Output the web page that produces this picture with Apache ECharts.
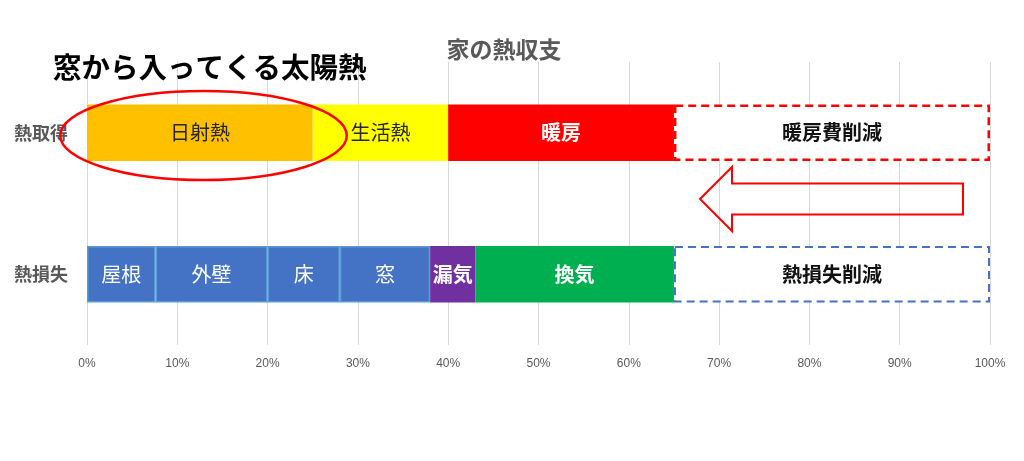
<!DOCTYPE html>
<html>
<head>
<meta charset="utf-8">
<script src="https://cdn.jsdelivr.net/npm/echarts@6/dist/echarts.min.js"></script>
<style>
html,body{margin:0;padding:0;background:#fff;}
#chart{width:1024px;height:461px;}
</style>
</head>
<body>
<div id="chart"></div>
<script>
// ---- data ----
const categories = ['熱取得', '熱損失'];
const gainNames = ['日射熱', '生活熱', '暖房', '暖房費削減'];
const gainValues = [25, 15, 25, 35];
const lossNames = ['屋根', '外壁', '床', '窓', '漏気', '換気', '熱損失削減'];
const lossValues = [7.6, 12.4, 8, 10, 5, 22, 35];
const tickValues = [0, 10, 20, 30, 40, 50, 60, 70, 80, 90, 100];
const chartTitle = '家の熱収支';
const noteText = '窓から入ってくる太陽熱';

// ---- styles ----
const CJK = '"Noto Sans CJK JP", "Noto Sans", sans-serif';
const gainStyles = [
  {color: '#FFC000', label: '#262626', weight: 'normal'},
  {color: '#FFFF00', label: '#262626', weight: 'normal'},
  {color: '#FF0000', label: '#FFFFFF', weight: 'bold'},
  {color: '#FFFFFF', label: '#111111', weight: 'bold', border: '#FF0000', dashed: true, bw: 2.5}
];
const lossStyles = [
  {color: '#4472C4', label: '#FFFFFF', weight: 'normal', border: '#5B9BD5', bw: 1.5},
  {color: '#4472C4', label: '#FFFFFF', weight: 'normal', border: '#5B9BD5', bw: 1.5},
  {color: '#4472C4', label: '#FFFFFF', weight: 'normal', border: '#5B9BD5', bw: 1.5},
  {color: '#4472C4', label: '#FFFFFF', weight: 'normal', border: '#5B9BD5', bw: 1.5},
  {color: '#7030A0', label: '#FFFFFF', weight: 'bold'},
  {color: '#00B050', label: '#FFFFFF', weight: 'bold'},
  {color: '#FFFFFF', label: '#111111', weight: 'bold', border: '#4472C4', dashed: true, bw: 2}
];

function makeSeries(name, value, idx, st) {
  const data = categories.map((c, i) => (i === idx ? value : '-'));
  const itemStyle = {color: st.color};
  if (st.border) {
    itemStyle.borderColor = st.border;
    itemStyle.borderWidth = st.bw;
    if (st.dashed) itemStyle.borderType = [8, 5];
  }
  return {
    name: name,
    type: 'bar',
    stack: 'total',
    barCategoryGap: '60%',
    data: data,
    itemStyle: itemStyle,
    label: {
      show: true,
      position: 'inside',
      formatter: '{a}',
      color: st.label,
      fontWeight: st.weight,
      fontSize: 20,
      fontFamily: CJK
    },
    emphasis: {disabled: true}
  };
}

const series = [];
gainNames.forEach((n, i) => series.push(makeSeries(n, gainValues[i], 0, gainStyles[i])));
lossNames.forEach((n, i) => series.push(makeSeries(n, lossValues[i], 1, lossStyles[i])));

const chart = echarts.init(document.getElementById('chart'), null, {renderer: 'canvas'});
chart.setOption({
  animation: false,
  backgroundColor: '#ffffff',
  title: {
    text: chartTitle,
    left: 499,
    top: 33,
    textAlign: 'center',
    textStyle: {color: '#595959', fontSize: 23, fontWeight: 'bold', fontFamily: CJK}
  },
  grid: {left: 87, right: 34, top: 62, bottom: 116, containLabel: false},
  xAxis: {
    type: 'value',
    min: tickValues[0],
    max: tickValues[tickValues.length - 1],
    interval: tickValues[1] - tickValues[0],
    axisLine: {show: false},
    axisTick: {show: false},
    splitLine: {show: true, lineStyle: {color: '#D9D9D9', width: 1}},
    axisLabel: {
      formatter: '{value}%',
      color: '#595959',
      fontSize: 12,
      margin: 13,
      fontFamily: '"Liberation Sans", sans-serif'
    }
  },
  yAxis: {
    type: 'category',
    data: categories,
    inverse: true,
    axisLine: {show: false},
    axisTick: {show: false},
    axisLabel: {
      color: '#595959',
      fontSize: 18,
      fontWeight: 'bold',
      margin: 19,
      fontFamily: CJK
    }
  },
  series: series,
  graphic: [
    {
      type: 'text',
      left: 53,
      top: 53,
      z: 100,
      style: {
        text: noteText,
        fill: '#000000',
        font: 'bold 28.5px "Noto Sans CJK JP"'
      }
    },
    {
      type: 'ellipse',
      z: 100,
      shape: {cx: 203.5, cy: 135.5, rx: 143.3, ry: 44.5},
      style: {fill: 'none', stroke: '#FF0000', lineWidth: 2.5}
    },
    {
      type: 'polygon',
      z: 100,
      shape: {
        points: [[700, 199], [732, 167], [732, 183.5], [963, 183.5], [963, 214.5], [732, 214.5], [732, 231]]
      },
      style: {fill: 'none', stroke: '#FF0000', lineWidth: 2}
    }
  ]
});
</script>
</body>
</html>
